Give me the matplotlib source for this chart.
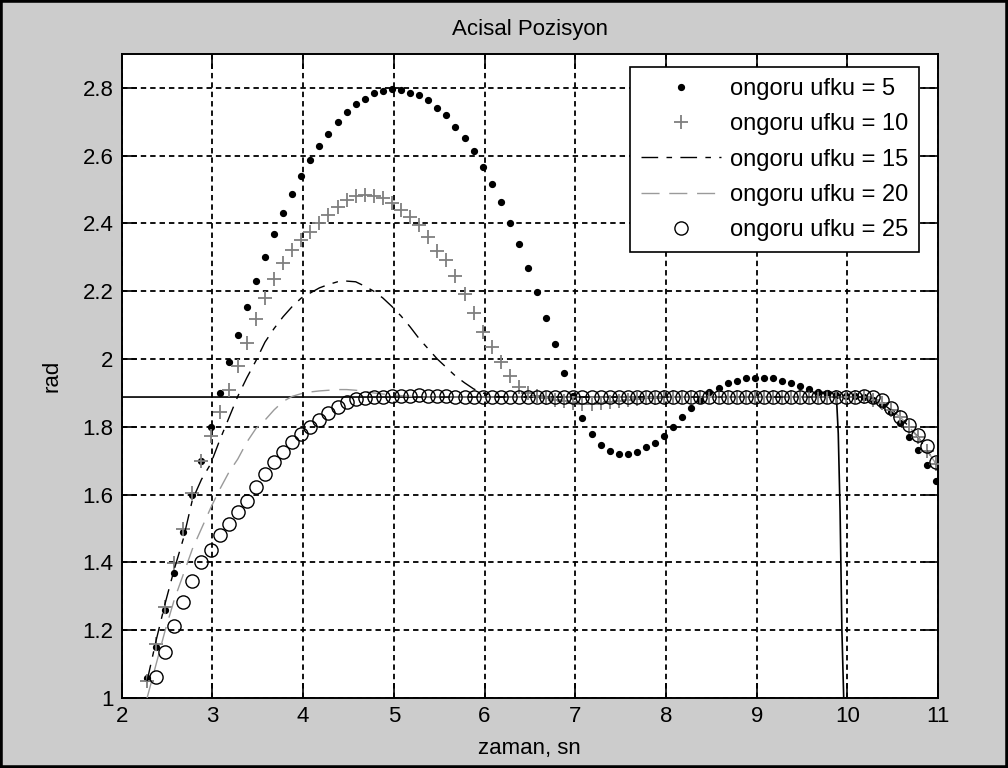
import numpy as np
import matplotlib
matplotlib.use("Agg")
import matplotlib.pyplot as plt
from matplotlib.patches import Rectangle

# tiempos de muestreo (s)
t = np.round(np.arange(2.28, 11.0, 0.1), 2)

# referencia
ref_t = [2.0, 9.88, 9.90, 9.92, 9.94, 9.97]
ref_y = [1.888, 1.888, 1.78, 1.55, 1.20, 0.90]

h5 = [1.06, 1.15, 1.26, 1.37, 1.49, 1.60, 1.70, 1.80, 1.90, 1.99,
      2.07, 2.155, 2.23, 2.30, 2.37, 2.43, 2.486, 2.54, 2.586, 2.63,
      2.663, 2.70, 2.73, 2.751, 2.768, 2.784, 2.79, 2.797, 2.793, 2.786,
      2.779, 2.763, 2.74, 2.719, 2.684, 2.652, 2.614, 2.568, 2.517, 2.463,
      2.401, 2.34, 2.27, 2.198, 2.12, 2.044, 1.959, 1.89, 1.825, 1.78,
      1.746, 1.729, 1.72, 1.72, 1.725, 1.741, 1.753, 1.773, 1.80, 1.829,
      1.857, 1.88, 1.903, 1.915, 1.928, 1.935, 1.943, 1.943, 1.943, 1.943,
      1.936, 1.93, 1.92, 1.913, 1.903, 1.90, 1.895, 1.892, 1.89, 1.888,
      1.88, 1.865, 1.845, 1.81, 1.769, 1.731, 1.687, 1.64]

h10 = [1.05, 1.16, 1.27, 1.397, 1.50, 1.604, 1.698, 1.772, 1.844, 1.908,
       1.98, 2.048, 2.119, 2.18, 2.237, 2.283, 2.323, 2.35, 2.375, 2.40,
       2.425, 2.45, 2.468, 2.48, 2.483, 2.482, 2.475, 2.46, 2.44, 2.42,
       2.395, 2.36, 2.32, 2.293, 2.244, 2.193, 2.136, 2.08, 2.036, 1.99,
       1.95, 1.918, 1.90, 1.89, 1.885, 1.88, 1.875, 1.87, 1.868, 1.868,
       1.87, 1.872, 1.876, 1.88, 1.883, 1.885, 1.886, 1.887, 1.888, 1.888,
       1.888, 1.888, 1.888, 1.888, 1.888, 1.888, 1.888, 1.888, 1.888, 1.888,
       1.888, 1.888, 1.888, 1.888, 1.888, 1.888, 1.888, 1.888, 1.889, 1.888,
       1.88, 1.87, 1.85, 1.83, 1.80, 1.77, 1.73, 1.69]

h15 = [1.05, 1.17, 1.28, 1.38, 1.47, 1.585, 1.645, 1.69, 1.76, 1.825,
       1.89, 1.945, 1.995, 2.05, 2.09, 2.125, 2.155, 2.18, 2.195, 2.21,
       2.22, 2.228, 2.23, 2.228, 2.215, 2.20, 2.18, 2.155, 2.127, 2.095,
       2.06, 2.03, 2.00, 1.975, 1.95, 1.93, 1.912, 1.90, 1.892, 1.888,
       1.888, 1.888, 1.888, 1.888, 1.888, 1.888, 1.888, 1.888, 1.888, 1.888,
       1.888, 1.888, 1.888, 1.888, 1.888, 1.888, 1.888, 1.888, 1.888, 1.888,
       1.888, 1.888, 1.888, 1.888, 1.888, 1.888, 1.888, 1.888, 1.888, 1.888,
       1.888, 1.888, 1.888, 1.888, 1.888, 1.888, 1.888, 1.888, 1.888, 1.888,
       1.88, 1.87, 1.85, 1.83, 1.80, 1.77, 1.73, 1.69]

h20 = [1.00, 1.10, 1.20, 1.29, 1.365, 1.44, 1.50, 1.56, 1.615, 1.665,
       1.705, 1.755, 1.795, 1.82, 1.85, 1.875, 1.89, 1.898, 1.903, 1.906,
       1.908, 1.91, 1.91, 1.908, 1.905, 1.90, 1.897, 1.894, 1.892, 1.89,
       1.888, 1.888, 1.888, 1.888, 1.888, 1.888, 1.888, 1.888, 1.888, 1.888,
       1.888, 1.888, 1.888, 1.888, 1.888, 1.888, 1.888, 1.888, 1.888, 1.888,
       1.888, 1.888, 1.888, 1.888, 1.888, 1.888, 1.888, 1.888, 1.888, 1.888,
       1.888, 1.888, 1.888, 1.888, 1.888, 1.888, 1.888, 1.888, 1.888, 1.888,
       1.888, 1.888, 1.888, 1.888, 1.888, 1.888, 1.888, 1.888, 1.888, 1.888,
       1.88, 1.87, 1.85, 1.83, 1.80, 1.77, 1.73, 1.69]

h25 = [np.nan, 1.061, 1.135, 1.212, 1.284, 1.345, 1.40, 1.438, 1.48, 1.513,
       1.548, 1.582, 1.623, 1.662, 1.697, 1.726, 1.756, 1.78, 1.80, 1.82,
       1.84, 1.859, 1.874, 1.882, 1.886, 1.888, 1.889, 1.89, 1.891, 1.892,
       1.893, 1.892, 1.891, 1.89, 1.889, 1.888, 1.888, 1.888, 1.888, 1.888,
       1.888, 1.888, 1.888, 1.888, 1.888, 1.888, 1.888, 1.888, 1.888, 1.888,
       1.888, 1.888, 1.888, 1.888, 1.888, 1.888, 1.888, 1.888, 1.888, 1.888,
       1.888, 1.888, 1.888, 1.888, 1.888, 1.888, 1.888, 1.888, 1.888, 1.888,
       1.888, 1.888, 1.888, 1.888, 1.888, 1.888, 1.888, 1.888, 1.888, 1.89,
       1.888, 1.88, 1.857, 1.83, 1.805, 1.775, 1.745, 1.695]

labels = ["ongoru ufku = 5", "ongoru ufku = 10", "ongoru ufku = 15",
          "ongoru ufku = 20", "ongoru ufku = 25"]

plt.rcParams["font.family"] = ["Liberation Sans", "DejaVu Sans"]
plt.rcParams["font.size"] = 16

fig = plt.figure(figsize=(10.08, 7.68), dpi=100, facecolor="#cccccc")
ax = fig.add_axes([0.1207, 0.0911, 0.8099, 0.8386])
ax.set_facecolor("white")

ax.plot(t, h5, linestyle="none", marker="o", markersize=4.2,
        color="black", label=labels[0], zorder=3)
ax.plot(t, h10, linestyle="none", marker="+", markersize=10.5,
        markeredgewidth=1.3, color="#7f7f7f", label=labels[1], zorder=3)
ax.plot(t, h15, linestyle=(0, (12, 6, 4, 6)), linewidth=1.0,
        color="black", label=labels[2], zorder=3)
ax.plot(t, h20, linestyle=(0, (13, 7)), linewidth=1.0,
        color="#9a9a9a", label=labels[3], zorder=3)
ax.plot(t, h25, linestyle="none", marker="o", markersize=9.5,
        markerfacecolor="none", markeredgecolor="black",
        markeredgewidth=1.0, label=labels[4], zorder=3)
ax.plot(ref_t, ref_y, color="black", linewidth=1.2, zorder=2)

ax.set_xlim(2, 11)
ax.set_ylim(1, 2.9)
ax.set_xticks(np.arange(2, 12, 1))
ax.set_yticks(np.round(np.arange(1, 2.81, 0.2), 1))
ax.set_yticklabels(["1", "1.2", "1.4", "1.6", "1.8", "2",
                    "2.2", "2.4", "2.6", "2.8"])

ax.grid(True, color="black", linestyle=(0, (3, 2.2)), linewidth=1.3)
ax.tick_params(direction="in", length=11, width=1.2, top=True, right=True,
               labelsize=16, pad=6, colors="black")
for s in ax.spines.values():
    s.set_linewidth(1.4)

ax.set_title("Acisal Pozisyon", fontsize=16, pad=14)
ax.set_xlabel("zaman, sn", fontsize=16, labelpad=8)
ax.set_ylabel("rad", fontsize=16, labelpad=14)

leg = ax.legend(loc="upper right", bbox_to_anchor=(0.977, 0.98),
                borderaxespad=0, fancybox=False, framealpha=1,
                edgecolor="black", fontsize=17, handlelength=3.4,
                handletextpad=0.35, labelspacing=0.56, borderpad=0.48)
leg.get_frame().set_linewidth(1.2)

# marco de la ventana
fig.patches.append(Rectangle((0, 0), 1, 1, transform=fig.transFigure,
                             fill=False, edgecolor="black", linewidth=4))

fig.savefig("out.png", dpi=100, facecolor=fig.get_facecolor())
